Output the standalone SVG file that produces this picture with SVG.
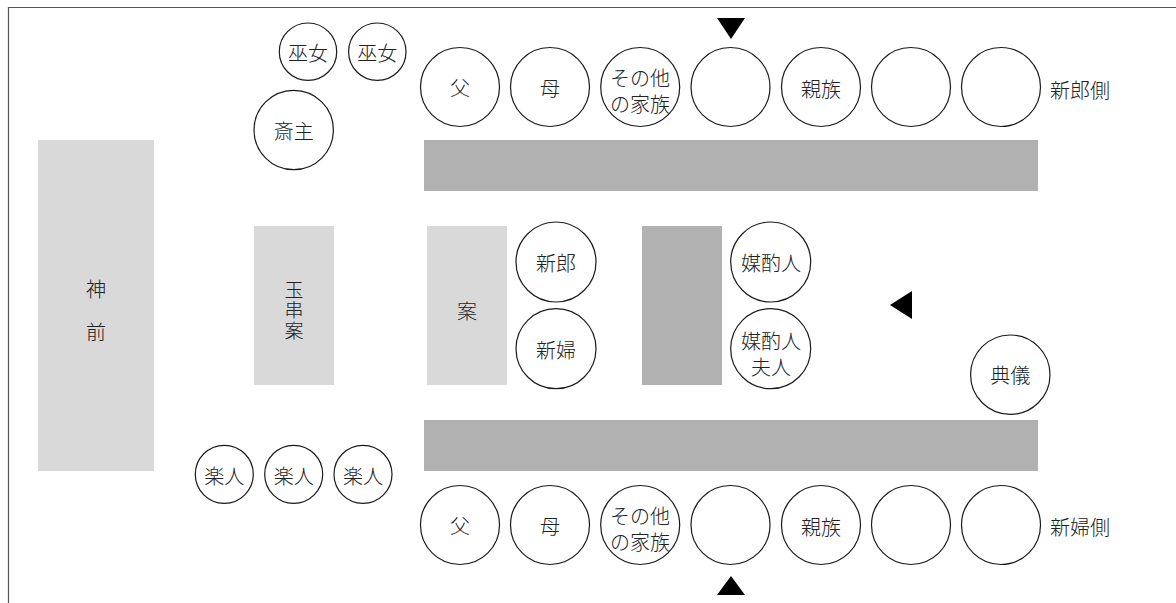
<svg xmlns="http://www.w3.org/2000/svg" width="1176" height="603" viewBox="0 0 1176 603">
<style>
.seat{fill:#fff;stroke:#1a1a1a;stroke-width:1.2}
.lt{fill:#d9d9d9}
.dk{fill:#b1b1b1}
text{font-family:"Noto Sans CJK JP","Noto Sans CJK SC",sans-serif;font-size:20px;font-weight:300;fill:#222;text-anchor:middle;dominant-baseline:central}
.vt{font-size:19px}
.side{text-anchor:start}
.tri{fill:#000}
</style>
<rect width="1176" height="603" fill="#fff"/>
<path d="M8.5 603 V7.5 H1176" fill="none" stroke="#555" stroke-width="1.2"/>

<g id="shinzen"><rect class="lt" x="38" y="140" width="116" height="331"/><text x="96" y="288">神</text><text x="96" y="331">前</text></g>
<g id="tamagushi"><rect class="lt" x="254" y="226" width="80" height="159"/><text class="vt" x="294" y="288">玉</text><text class="vt" x="294" y="308.5">串</text><text class="vt" x="294" y="329">案</text></g>
<g id="an"><rect class="lt" x="427" y="226" width="80" height="159"/><text x="467" y="310">案</text></g>
<g id="table-mid"><rect class="dk" x="642" y="226" width="80" height="159"/></g>
<g id="table-top"><rect class="dk" x="424" y="140" width="614" height="51"/></g>
<g id="table-bottom"><rect class="dk" x="424" y="420" width="614" height="51"/></g>

<g id="miko1"><circle class="seat" cx="308" cy="51.7" r="28.7"/><text x="308" y="52">巫女</text></g>
<g id="miko2"><circle class="seat" cx="377.3" cy="51.7" r="28.7"/><text x="377.3" y="52">巫女</text></g>
<g id="saishu"><circle class="seat" cx="293.7" cy="130" r="39.7"/><text x="293.7" y="130.5">斎主</text></g>

<g id="gakunin1"><circle class="seat" cx="224.3" cy="474.3" r="29"/><text x="224.3" y="475">楽人</text></g>
<g id="gakunin2"><circle class="seat" cx="293.7" cy="474.3" r="29"/><text x="293.7" y="475">楽人</text></g>
<g id="gakunin3"><circle class="seat" cx="363" cy="474.3" r="29"/><text x="363" y="475">楽人</text></g>

<g id="shinro"><circle class="seat" cx="556" cy="262" r="40"/><text x="556" y="262">新郎</text></g>
<g id="shinpu"><circle class="seat" cx="556" cy="348.7" r="40"/><text x="556" y="349">新婦</text></g>
<g id="baishakunin"><circle class="seat" cx="770.7" cy="262" r="40"/><text x="771" y="262">媒酌人</text></g>
<g id="baishakunin-fujin"><circle class="seat" cx="770.7" cy="348.7" r="40"/><text x="771" y="340">媒酌人</text><text x="771" y="366">夫人</text></g>
<g id="tengi"><circle class="seat" cx="1010.3" cy="374.7" r="39.7"/><text x="1010.3" y="374">典儀</text></g>

<g id="groom-side">
<circle class="seat" cx="460" cy="87" r="39.5"/><text x="460" y="87">父</text>
<circle class="seat" cx="550" cy="87" r="39.5"/><text x="550" y="87">母</text>
<circle class="seat" cx="640.2" cy="87" r="39.5"/><text x="640" y="77.5">その他</text><text x="640" y="103">の家族</text>
<circle class="seat" cx="730.5" cy="87" r="39.5"/>
<circle class="seat" cx="821" cy="87" r="39.5"/><text x="821" y="88">親族</text>
<circle class="seat" cx="911" cy="87" r="39.5"/>
<circle class="seat" cx="1001" cy="87" r="39.5"/>
<text class="side" x="1050" y="89">新郎側</text>
</g>

<g id="bride-side">
<circle class="seat" cx="460" cy="525" r="39.5"/><text x="460" y="525">父</text>
<circle class="seat" cx="550" cy="525" r="39.5"/><text x="550" y="525">母</text>
<circle class="seat" cx="640.2" cy="525" r="39.5"/><text x="640" y="515.5">その他</text><text x="640" y="541">の家族</text>
<circle class="seat" cx="730.5" cy="525" r="39.5"/>
<circle class="seat" cx="821" cy="525" r="39.5"/><text x="821" y="526">親族</text>
<circle class="seat" cx="911" cy="525" r="39.5"/>
<circle class="seat" cx="1001" cy="525" r="39.5"/>
<text class="side" x="1050" y="526">新婦側</text>
</g>

<g id="connectors">
<polygon class="tri" points="717,18 745,18 731,39"/>
<polygon class="tri" points="717,595 745,595 731,576"/>
<polygon class="tri" points="912,291 912,319 890,305"/>
</g>
</svg>
